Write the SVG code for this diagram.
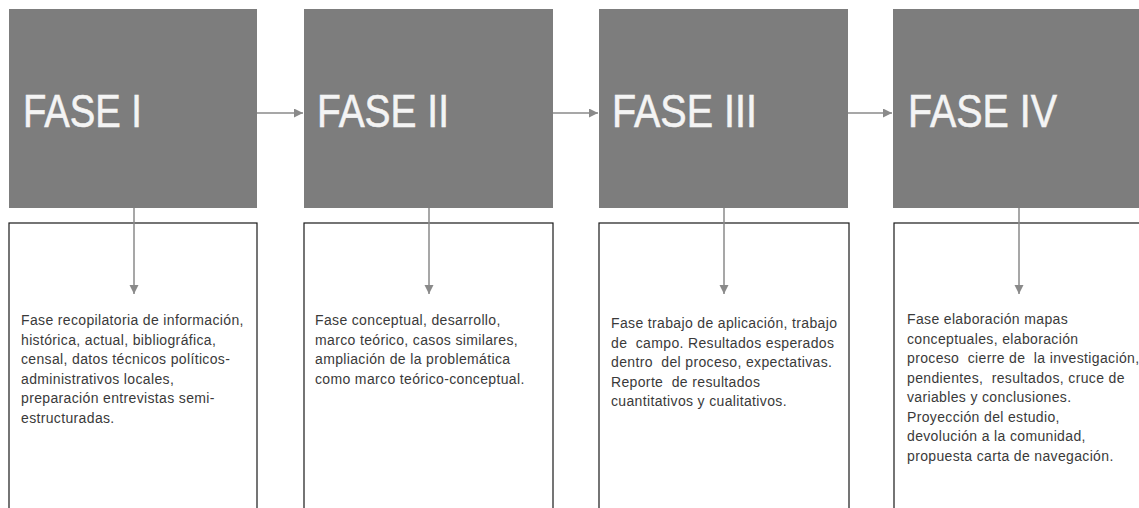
<svg xmlns="http://www.w3.org/2000/svg" width="1139" height="508" viewBox="0 0 1139 508">
<style>
.phase{fill:#7d7d7d;}
.title{font-family:"Liberation Sans",Arial,sans-serif;font-size:47px;fill:#f4f4f4;stroke:#f4f4f4;stroke-width:0.6;}
.box{fill:#ffffff;stroke:#1a1a1a;stroke-width:1.2;}
.desc{font-family:"Liberation Sans",Arial,sans-serif;font-size:14px;letter-spacing:0.35px;fill:#3a3a3a;}
.conn{stroke:#8a8a8a;stroke-width:1.5;fill:none;}
</style>
<defs>
<marker id="ah" markerWidth="10" markerHeight="10" refX="9" refY="4.5" orient="auto" markerUnits="userSpaceOnUse">
<path d="M0,0 L9,4.5 L0,9 Z" fill="#8a8a8a"/>
</marker>
</defs>
<rect width="1139" height="508" fill="#ffffff"/>
<g id="fase1">
<rect class="phase" x="9" y="9" width="248" height="199"/>
<text class="title" x="23" y="127" textLength="119" lengthAdjust="spacingAndGlyphs">FASE I</text>
</g>
<g id="fase2">
<rect class="phase" x="304" y="9" width="249" height="199"/>
<text class="title" x="317" y="127" textLength="132" lengthAdjust="spacingAndGlyphs">FASE II</text>
</g>
<g id="fase3">
<rect class="phase" x="599" y="9" width="249" height="199"/>
<text class="title" x="612" y="127" textLength="145" lengthAdjust="spacingAndGlyphs">FASE III</text>
</g>
<g id="fase4">
<rect class="phase" x="893" y="9" width="252" height="199"/>
<text class="title" x="908" y="127" textLength="149" lengthAdjust="spacingAndGlyphs">FASE IV</text>
</g>
<g id="desc1">
<rect class="box" x="9" y="223" width="248" height="300"/>
<text class="desc">
<tspan x="21" y="325">Fase recopilatoria de información,</tspan>
<tspan x="21" y="344.5">histórica, actual, bibliográfica,</tspan>
<tspan x="21" y="364">censal, datos técnicos políticos-</tspan>
<tspan x="21" y="383.5">administrativos locales,</tspan>
<tspan x="21" y="403">preparación entrevistas semi-</tspan>
<tspan x="21" y="422.5">estructuradas.</tspan>
</text>
</g>
<g id="desc2">
<rect class="box" x="304" y="223" width="249" height="300"/>
<text class="desc">
<tspan x="315" y="325">Fase conceptual, desarrollo,</tspan>
<tspan x="315" y="344.5">marco teórico, casos similares,</tspan>
<tspan x="315" y="364">ampliación de la problemática</tspan>
<tspan x="315" y="383.5">como marco teórico-conceptual.</tspan>
</text>
</g>
<g id="desc3">
<rect class="box" x="599" y="223" width="250" height="300"/>
<text class="desc" xml:space="preserve"><tspan x="611" y="328">Fase trabajo de aplicación, trabajo</tspan><tspan x="611" y="347.5">de  campo. Resultados esperados</tspan><tspan x="611" y="367">dentro  del proceso, expectativas.</tspan><tspan x="611" y="386.5">Reporte  de resultados</tspan><tspan x="611" y="406">cuantitativos y cualitativos.</tspan></text>
</g>
<g id="desc4">
<rect class="box" x="894" y="223" width="252" height="300"/>
<text class="desc" xml:space="preserve"><tspan x="907" y="324">Fase elaboración mapas</tspan><tspan x="907" y="343.5">conceptuales, elaboración</tspan><tspan x="907" y="363">proceso  cierre de  la investigación,</tspan><tspan x="907" y="382.5">pendientes,  resultados, cruce de</tspan><tspan x="907" y="402">variables y conclusiones.</tspan><tspan x="907" y="421.5">Proyección del estudio,</tspan><tspan x="907" y="441">devolución a la comunidad,</tspan><tspan x="907" y="460.5">propuesta carta de navegación.</tspan></text>
</g>
<g id="connectors">
<line class="conn" x1="257" y1="113" x2="303" y2="113" marker-end="url(#ah)"/>
<line class="conn" x1="553" y1="113" x2="598" y2="113" marker-end="url(#ah)"/>
<line class="conn" x1="848" y1="113" x2="892" y2="113" marker-end="url(#ah)"/>
<line class="conn" x1="134" y1="208" x2="134" y2="294" marker-end="url(#ah)"/>
<line class="conn" x1="429" y1="208" x2="429" y2="294" marker-end="url(#ah)"/>
<line class="conn" x1="724" y1="208" x2="724" y2="294" marker-end="url(#ah)"/>
<line class="conn" x1="1019" y1="208" x2="1019" y2="294" marker-end="url(#ah)"/>
</g>
</svg>
